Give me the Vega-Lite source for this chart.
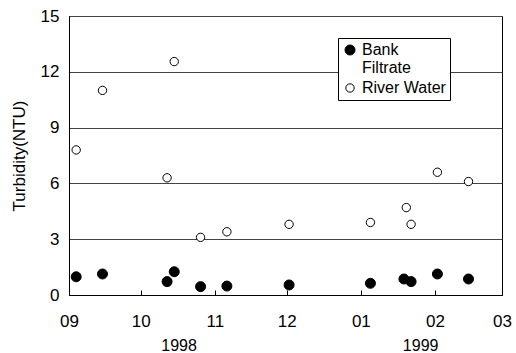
{
  "$schema": "https://vega.github.io/schema/vega-lite/v6.json",
  "autosize": "none",
  "width": 433,
  "height": 279,
  "padding": {"left": 69, "top": 16, "right": 14, "bottom": 58},
  "background": "white",
  "config": {
    "font": "Liberation Sans",
    "view": {"stroke": "black", "strokeWidth": 1},
    "axis": {"labelFont": "Liberation Sans", "titleFont": "Liberation Sans", "labelColor": "black", "titleColor": "black", "labelFontSize": 17, "titleFontSize": 17, "titleFontWeight": "normal"}
  },
  "datasets": {
    "pts": [
      {"date": "1998-09-04", "series": "River Water", "ntu": 7.8},
      {"date": "1998-09-15", "series": "River Water", "ntu": 11.0},
      {"date": "1998-10-12", "series": "River Water", "ntu": 6.3},
      {"date": "1998-10-15", "series": "River Water", "ntu": 12.55},
      {"date": "1998-10-26", "series": "River Water", "ntu": 3.1},
      {"date": "1998-11-06", "series": "River Water", "ntu": 3.4},
      {"date": "1998-12-02", "series": "River Water", "ntu": 3.8},
      {"date": "1999-01-05", "series": "River Water", "ntu": 3.9},
      {"date": "1999-01-20", "series": "River Water", "ntu": 4.7},
      {"date": "1999-01-22", "series": "River Water", "ntu": 3.8},
      {"date": "1999-02-02", "series": "River Water", "ntu": 6.6},
      {"date": "1999-02-15", "series": "River Water", "ntu": 6.1},
      {"date": "1998-09-04", "series": "Bank Filtrate", "ntu": 0.98},
      {"date": "1998-09-15", "series": "Bank Filtrate", "ntu": 1.13},
      {"date": "1998-10-12", "series": "Bank Filtrate", "ntu": 0.72},
      {"date": "1998-10-15", "series": "Bank Filtrate", "ntu": 1.25},
      {"date": "1998-10-26", "series": "Bank Filtrate", "ntu": 0.45},
      {"date": "1998-11-06", "series": "Bank Filtrate", "ntu": 0.48},
      {"date": "1998-12-02", "series": "Bank Filtrate", "ntu": 0.54},
      {"date": "1999-01-05", "series": "Bank Filtrate", "ntu": 0.63},
      {"date": "1999-01-19", "series": "Bank Filtrate", "ntu": 0.86},
      {"date": "1999-01-22", "series": "Bank Filtrate", "ntu": 0.72},
      {"date": "1999-02-02", "series": "Bank Filtrate", "ntu": 1.13},
      {"date": "1999-02-15", "series": "Bank Filtrate", "ntu": 0.86}
    ],
    "years": [
      {"date": "1998-10-17", "year": "1998"},
      {"date": "1999-01-26", "year": "1999"}
    ]
  },
  "layer": [
    {
      "data": {"name": "pts"},
      "mark": {"type": "point", "filled": false, "stroke": "black", "strokeWidth": 1, "opacity": 1},
      "encoding": {
        "x": {
          "field": "date", "type": "temporal",
          "scale": {"domain": ["1998-09-01", "1999-03-01"], "nice": false},
          "axis": {"title": null, "format": "%m", "tickCount": {"interval": "month", "step": 1}, "grid": false, "domainColor": "black", "tickColor": "black", "tickSize": -5, "labelPadding": 23, "labelFlush": false}
        },
        "y": {
          "field": "ntu", "type": "quantitative",
          "scale": {"domain": [0, 15], "nice": false},
          "axis": {"title": "Turbidity(NTU)", "values": [0, 3, 6, 9, 12, 15], "tickSize": 0, "labelPadding": 10, "titlePadding": 12, "domainColor": "black", "gridColor": "#444", "gridWidth": 1, "gridOpacity": 1}
        },
        "fill": {
          "field": "series", "type": "nominal",
          "scale": {"domain": ["Bank Filtrate", "River Water"], "range": ["black", "white"]},
          "legend": {
            "title": null, "orient": "none", "legendX": 269, "legendY": 22,
            "fillColor": "white", "strokeColor": "black", "padding": 4,
            "symbolStrokeColor": "black", "symbolStrokeWidth": 1, "symbolType": "circle",
            "labelFont": "Liberation Sans", "labelFontSize": 16, "labelColor": "black", "labelOffset": 4,
            "labelExpr": "datum.label == 'Bank Filtrate' ? ['Bank', 'Filtrate'] : datum.label",
            "rowPadding": 4
          }
        },
        "size": {
          "field": "series", "type": "nominal",
          "scale": {"domain": ["Bank Filtrate", "River Water"], "range": [100, 70]}
        }
      }
    },
    {
      "data": {"name": "years"},
      "mark": {"type": "text", "font": "Liberation Sans", "fontSize": 16, "color": "black", "clip": false},
      "encoding": {
        "x": {"field": "date", "type": "temporal"},
        "y": {"datum": -2.75},
        "text": {"field": "year"}
      }
    }
  ]
}
